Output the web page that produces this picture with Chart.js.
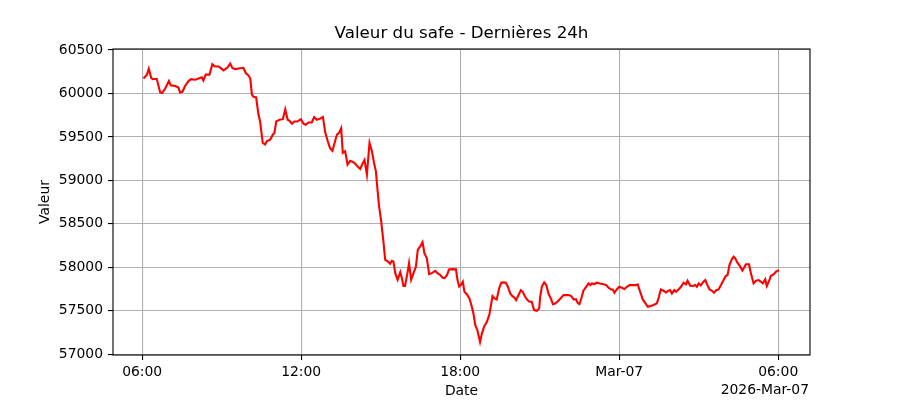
<!DOCTYPE html>
<html lang="fr">
<head>
<meta charset="utf-8">
<title>Valeur du safe - Dernières 24h</title>
<script src="https://cdn.jsdelivr.net/npm/chart.js@4.4.1/dist/chart.umd.min.js"></script>
<style>
  html,body{margin:0;padding:0;background:#fff;}
  #wrap{width:900px;height:400px;position:relative;}
</style>
</head>
<body>
<div id="wrap"><canvas id="safeChart"></canvas></div>
<script>
// heures écoulées depuis 2026-03-06 06:00
const hours = [
  0.05,0.18,0.25,0.34,0.40,0.55,0.68,0.75,0.87,1.01,1.08,1.25,1.37,1.43,1.52,1.62,1.75,1.85,2.00,2.13,
  2.25,2.31,2.40,2.54,2.65,2.75,2.88,2.97,3.07,3.22,3.32,3.41,3.51,3.70,3.82,3.91,4.01,4.08,4.14,4.20,
  4.30,4.39,4.45,4.55,4.64,4.70,4.83,4.93,4.99,5.06,5.18,5.31,5.40,5.49,5.56,5.65,5.74,5.86,5.99,6.09,
  6.17,6.28,6.40,6.49,6.59,6.72,6.82,6.91,7.00,7.09,7.18,7.26,7.35,7.43,7.51,7.57,7.66,7.75,7.85,7.95,
  8.04,8.12,8.23,8.31,8.39,8.48,8.58,8.67,8.75,8.82,8.88,8.94,9.02,9.11,9.17,9.27,9.36,9.42,9.48,9.55,
  9.64,9.74,9.80,9.86,9.92,10.01,10.07,10.15,10.24,10.33,10.40,10.49,10.58,10.65,10.74,10.83,10.93,11.06,11.14,11.24,
  11.34,11.41,11.50,11.58,11.69,11.84,11.90,11.96,12.02,12.10,12.16,12.25,12.35,12.44,12.50,12.57,12.65,12.75,12.82,12.91,
  13.01,13.11,13.22,13.30,13.38,13.47,13.55,13.63,13.72,13.80,13.89,13.97,14.04,14.11,14.20,14.29,14.36,14.45,14.54,14.62,
  14.70,14.79,14.89,14.98,15.02,15.08,15.17,15.25,15.33,15.42,15.50,15.58,15.67,15.75,15.90,16.09,16.19,16.28,16.37,16.43,
  16.50,16.57,16.65,16.76,16.84,16.91,16.97,17.06,17.16,17.26,17.38,17.51,17.60,17.69,17.76,17.82,17.91,18.00,18.10,18.20,
  18.29,18.39,18.54,18.64,18.70,18.79,18.89,18.98,19.08,19.17,19.27,19.42,19.50,19.57,19.67,19.77,19.86,19.92,19.99,20.08,
  20.15,20.24,20.33,20.43,20.52,20.58,20.68,20.78,20.87,20.93,21.00,21.08,21.18,21.25,21.33,21.41,21.50,21.58,21.66,21.75,
  21.84,21.94,22.02,22.09,22.16,22.25,22.32,22.38,22.46,22.57,22.65,22.72,22.78,22.90,22.97,23.07,23.16,23.26,23.35,23.42,
  23.51,23.57,23.66,23.72,23.82,23.92,24.03
];
const values = [
  60172,60216,60283,60179,60164,60168,60011,60004,60056,60142,60093,60086,60067,60011,60019,60086,60142,60164,60157,60172,
  60186,60149,60216,60216,60336,60310,60310,60291,60265,60298,60343,60291,60280,60290,60295,60235,60208,60171,59990,59962,
  59955,59754,59678,59431,59413,59450,59469,59526,59545,59678,59697,59704,59818,59697,59685,59651,59678,59678,59704,59651,
  59640,59666,59666,59727,59697,59710,59730,59550,59455,59370,59340,59431,59527,59546,59600,59316,59335,59181,59225,59212,
  59193,59162,59131,59189,59235,59066,59431,59335,59200,59104,58893,58701,58528,58279,58087,58068,58041,58075,58068,57933,
  57856,57945,57876,57787,57787,57933,58048,57856,57933,58010,58202,58240,58290,58163,58106,57922,57933,57960,57933,57914,
  57880,57876,57910,57975,57980,57977,57854,57780,57796,57835,57719,57692,57642,57546,57469,57335,57277,57142,57238,57323,
  57373,57469,57669,57642,57631,57758,57823,57827,57823,57777,57700,57669,57654,57623,57681,57738,57719,57662,57623,57604,
  57604,57508,57500,57527,57662,57777,57827,57796,57700,57642,57577,57585,57604,57631,57681,57681,57669,57631,57635,57592,
  57577,57642,57731,57777,57815,57796,57815,57808,57823,57815,57808,57796,57765,57746,57746,57708,57746,57777,57765,57750,
  57777,57796,57796,57796,57804,57719,57631,57592,57546,57554,57565,57585,57662,57746,57731,57712,57731,57738,57700,57738,
  57719,57746,57777,57823,57804,57846,57788,57785,57796,57777,57815,57792,57835,57854,57796,57746,57731,57708,57738,57746,
  57796,57854,57900,57912,58027,58092,58123,58104,58054,58008,57962,58000,58035,58035,57931,57815,57846,57854,57835,57815,
  57862,57785,57846,57900,57919,57950,57969
];

const xTicks = [0, 6, 12, 18, 24];
const xTickLabels = ['06:00', '12:00', '18:00', 'Mar-07', '06:00'];
const yTicks = [57000, 57500, 58000, 58500, 59000, 59500, 60000, 60500];

const FONT = 'DejaVu Sans';
const TITLE = 'Valeur du safe - Dernières 24h';

// cadre + titre + textes des axes façon matplotlib
const framePlugin = {
  id: 'frame',
  afterDraw(chart){
    const {ctx, chartArea: a} = chart;
    const cx = (a.left + a.right) / 2;
    ctx.save();
    ctx.strokeStyle = '#000';
    ctx.lineWidth = 1.1;
    ctx.strokeRect(a.left, a.top, a.right - a.left, a.bottom - a.top);
    ctx.fillStyle = '#000';
    ctx.textBaseline = 'middle';
    ctx.textAlign = 'center';
    ctx.font = '16.7px "' + FONT + '"';
    ctx.fillText(TITLE, cx, 34);
    ctx.font = '13.9px "' + FONT + '"';
    ctx.fillText('Date', cx, 391);
    ctx.textAlign = 'right';
    ctx.fillText('2026-Mar-07', a.right - 1, 390);
    ctx.translate(45, (a.top + a.bottom) / 2);
    ctx.rotate(-Math.PI / 2);
    ctx.textAlign = 'center';
    ctx.fillText('Valeur', 0, 0);
    ctx.restore();
  }
};

new Chart(document.getElementById('safeChart').getContext('2d'), {
  type: 'line',
  data: {
    datasets: [{
      label: 'Valeur',
      data: hours.map((h, i) => ({x: h, y: values[i]})),
      borderColor: '#ff0000',
      borderWidth: 2.1,
      pointRadius: 0,
      tension: 0,
      fill: false
    }]
  },
  options: {
    responsive: true,
    maintainAspectRatio: false,
    animation: false,
    devicePixelRatio: 1,
    layout: {padding: {left: 0, right: 90, top: 49, bottom: 0}},
    plugins: {
      legend: {display: false},
      tooltip: {enabled: false},
      title: {display: false}
    },
    scales: {
      x: {
        type: 'linear',
        min: -1.1,
        max: 25.2,
        afterFit(s){ s.height = 45; },
        afterBuildTicks(s){ s.ticks = xTicks.map(v => ({value: v})); },
        border: {display: false},
        grid: {color: '#b0b0b0', lineWidth: 1.1, tickColor: '#000', tickLength: 5},
        ticks: {
          color: '#000', padding: 4, maxRotation: 0, autoSkip: false,
          font: {family: FONT, size: 13.9},
          callback: (v) => xTickLabels[xTicks.indexOf(v)]
        }
      },
      y: {
        min: 56992,
        max: 60511,
        afterFit(s){ s.width = 113; },
        afterBuildTicks(s){ s.ticks = yTicks.map(v => ({value: v})); },
        border: {display: false},
        grid: {color: '#b0b0b0', lineWidth: 1.1, tickColor: '#000', tickLength: 5},
        ticks: {
          color: '#000', padding: 5,
          font: {family: FONT, size: 13.9},
          callback: (v) => String(v)
        }
      }
    }
  },
  plugins: [framePlugin]
});
</script>
</body>
</html>
